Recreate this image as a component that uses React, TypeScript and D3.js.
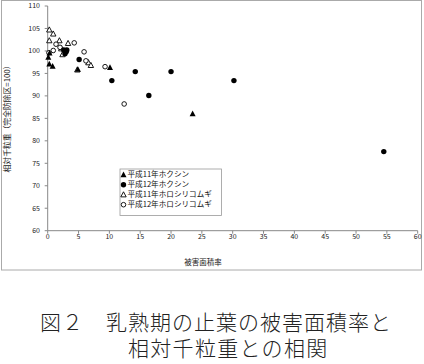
import React from "react";
import * as d3 from "d3";

const xTicks = [0, 5, 10, 15, 20, 25, 30, 35, 40, 45, 50, 55, 60];
const yTicks = [60, 65, 70, 75, 80, 85, 90, 95, 100, 105, 110];

// 平成11年ホクシン (filled triangle)
const h11HokushinX = [0.3, 0.1, 0.26, 0.8, 4.9, 10.1, 23.5];
const h11HokushinY = [99.5, 98.6, 97.1, 96.6, 95.9, 96.3, 86.0];
// 平成12年ホクシン (filled circle)
const h12HokushinX = [2.6, 3.0, 3.1, 2.8, 5.1, 10.4, 14.2, 20.0, 16.4, 30.2, 54.5];
const h12HokushinY = [100.2, 99.8, 100.2, 99.4, 98.1, 93.4, 95.4, 95.4, 90.1, 93.4, 77.6];
// 平成11年ホロシリコムギ (open triangle)
const h11HoroX = [0.26, 0.9, 0.26, 1.9, 3.3, 2.2, 2.4, 4.8, 6.6, 7.0];
const h11HoroY = [104.7, 103.8, 102.3, 102.3, 101.7, 100.5, 99.2, 95.8, 97.4, 96.8];
// 平成12年ホロシリコムギ (open circle)
const h12HoroX = [1.35, 4.3, 0.9, 0.2, 2.0, 5.9, 6.2, 9.3, 12.4];
const h12HoroY = [101.5, 101.8, 100.1, 99.6, 100.8, 99.8, 97.8, 96.5, 88.2];

const legendLabels = ["平成11年ホクシン", "平成12年ホクシン", "平成11年ホロシリコムギ", "平成12年ホロシリコムギ"];

const FONT = "'Noto Sans CJK JP', sans-serif";

function tri(cx: number, cy: number, s: number) {
  const h = s * 0.9;
  return `M${cx},${cy - h * 0.6} L${cx + s / 2},${cy + h * 0.45} L${cx - s / 2},${cy + h * 0.45} Z`;
}

function Marker({ kind, x, y }: { kind: number; x: number; y: number }) {
  if (kind === 0) return <path d={tri(x, y, 6)} fill="#000" />;
  if (kind === 1) return <circle cx={x} cy={y} r={2.7} fill="#000" />;
  if (kind === 2) return <path d={tri(x, y, 5.4)} fill="#fff" stroke="#000" strokeWidth={0.9} />;
  return <circle cx={x} cy={y} r={2.3} fill="#fff" stroke="#000" strokeWidth={0.9} />;
}

export default function App() {
  const x = d3.scaleLinear().domain([0, 60]).range([47.7, 417.7]);
  const y = d3.scaleLinear().domain([60, 110]).range([230.7, 6]);
  const axisColor = "#888";

  const series = [
    { xs: h11HokushinX, ys: h11HokushinY, kind: 0 },
    { xs: h12HokushinX, ys: h12HokushinY, kind: 1 },
    { xs: h11HoroX, ys: h11HoroY, kind: 2 },
    { xs: h12HoroX, ys: h12HoroY, kind: 3 },
  ];
  const order = [2, 3, 0, 1];

  return (
    <svg width={424} height={364} style={{ position: "absolute", left: 0, top: 0, background: "#fff" }}>
      <rect x={0} y={0} width={424} height={364} fill="#fff" />
      <rect x={1.5} y={0.5} width={420} height={269.5} fill="none" stroke="#aaa" strokeWidth={1} />
      <line x1={x(0)} x2={x(0)} y1={y(110)} y2={y(60)} stroke={axisColor} strokeWidth={1} />
      <line x1={x(0)} x2={x(60)} y1={y(60)} y2={y(60)} stroke={axisColor} strokeWidth={1} />
      {yTicks.map((t) => (
        <g key={"y" + t}>
          <line x1={x(0) - 3} x2={x(0)} y1={y(t)} y2={y(t)} stroke={axisColor} strokeWidth={1} />
          <text x={40} y={y(t)} dy="0.35em" textAnchor="end" fontSize={7} fontFamily={FONT} fill="#222">
            {t}
          </text>
        </g>
      ))}
      {xTicks.map((t) => (
        <g key={"x" + t}>
          <line x1={x(t)} x2={x(t)} y1={y(60)} y2={y(60) + 3} stroke={axisColor} strokeWidth={1} />
          <text x={x(t)} y={238.5} textAnchor="middle" fontSize={7} fontFamily={FONT} fill="#222">
            {t}
          </text>
        </g>
      ))}
      <text x={203} y={265} textAnchor="middle" fontSize={7.5} fontFamily={FONT} fill="#222">
        被害面積率
      </text>
      <text
        transform={`translate(9.5,117) rotate(-90)`}
        textAnchor="middle"
        fontSize={7.8}
        fontFamily={FONT}
        fill="#222"
      >
        相対千粒重（完全防除区=100）
      </text>
      {order.map((si) => {
        const s = series[si];
        return (
          <g key={"s" + si}>
            {s.xs.map((xv, i) => (
              <Marker key={i} kind={s.kind} x={x(xv)} y={y(s.ys[i])} />
            ))}
          </g>
        );
      })}
      <rect x={120} y={169} width={101.5} height={46.5} fill="#fff" stroke="#999" strokeWidth={0.8} />
      {legendLabels.map((lab, i) => {
        const cy = 174.7 + i * 10;
        return (
          <g key={"l" + i}>
            <Marker kind={i} x={123.5} y={cy} />
            <text x={127.5} y={cy} dy="0.36em" fontSize={7.6} fontFamily={FONT} fill="#111">
              {lab}
            </text>
          </g>
        );
      })}
      <text x={40} y={322.5} dy="0.36em" fontSize={21} letterSpacing={1} fontFamily={"serif, 'Noto Sans CJK JP'"} fontWeight={300} fill="#222">
        図２　乳熟期の止葉の被害面積率と
      </text>
      <text x={128} y={348.3} dy="0.36em" fontSize={21} letterSpacing={1.3} fontFamily={"serif, 'Noto Sans CJK JP'"} fontWeight={300} fill="#222">
        相対千粒重との相関
      </text>
    </svg>
  );
}
